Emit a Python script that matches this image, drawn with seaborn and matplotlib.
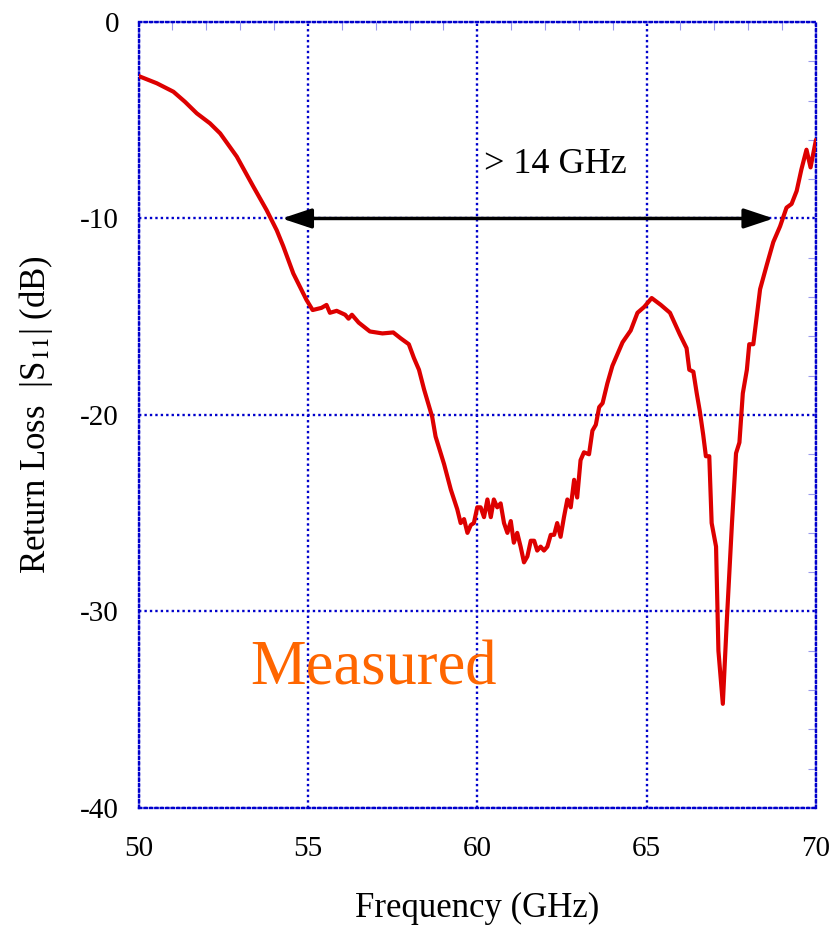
import numpy as np
import pandas as pd
import matplotlib
matplotlib.use("Agg")
import matplotlib.pyplot as plt
import seaborn as sns
from matplotlib.ticker import MultipleLocator

freq = [50.0, 50.54, 51.03, 51.37, 51.72, 52.11, 52.41, 52.9, 53.14, 53.39, 53.78, 54.08,
        54.27, 54.57, 54.96, 55.14, 55.4, 55.55, 55.65, 55.85, 56.1, 56.2, 56.3, 56.5,
        56.83, 57.2, 57.52, 57.74, 57.98, 58.13, 58.28, 58.43, 58.67, 58.77, 59.02, 59.22,
        59.41, 59.51, 59.61, 59.71, 59.81, 59.90, 60.0, 60.10, 60.2, 60.3, 60.4, 60.49,
        60.59, 60.69, 60.79, 60.89, 60.99, 61.08, 61.18, 61.28, 61.38, 61.48, 61.58, 61.68,
        61.77, 61.87, 61.97, 62.07, 62.17, 62.27, 62.36, 62.46, 62.56, 62.66, 62.76, 62.86,
        62.95, 63.05, 63.15, 63.30, 63.40, 63.50, 63.60, 63.70, 63.84, 63.99, 64.14, 64.29,
        64.53, 64.73, 64.93, 65.15, 65.42, 65.69, 65.98, 66.18, 66.26, 66.38, 66.48, 66.57,
        66.67, 66.75, 66.85, 66.92, 67.05, 67.12, 67.25, 67.37, 67.52, 67.64, 67.74, 67.84,
        67.96, 68.03, 68.15, 68.35, 68.55, 68.74, 68.94, 69.13, 69.28, 69.43, 69.57, 69.72,
        69.84, 70.0]
s11 = [-2.75, -3.12, -3.55, -4.06, -4.65, -5.16, -5.67, -6.85, -7.6, -8.38, -9.57, -10.6,
       -11.4, -12.8, -14.15, -14.66, -14.55, -14.4, -14.8, -14.7, -14.9, -15.1, -14.9, -15.3,
       -15.75, -15.85, -15.8, -16.1, -16.4, -17.1, -17.7, -18.7, -20.1, -21.1, -22.5, -23.8,
       -24.8, -25.5, -25.3, -26.0, -25.6, -25.5, -24.7, -24.7, -25.2, -24.3, -25.2, -24.3,
       -24.7, -24.5, -25.5, -26.0, -25.4, -26.5, -26.0, -26.7, -27.5, -27.2, -26.4, -26.4,
       -26.9, -26.7, -26.9, -26.7, -26.1, -26.1, -25.5, -26.2, -25.2, -24.3, -24.7, -23.3,
       -24.2, -22.3, -21.9, -22.0, -20.8, -20.5, -19.6, -19.4, -18.4, -17.5, -16.9, -16.3,
       -15.7, -14.8, -14.5, -14.05, -14.4, -14.8, -15.9, -16.6, -17.7, -17.8, -18.9, -19.8,
       -21.0, -22.1, -22.1, -25.5, -26.7, -32.0, -34.7, -30.4, -25.5, -21.95, -21.4, -18.9,
       -17.7, -16.4, -16.4, -13.6, -12.35, -11.2, -10.4, -9.45, -9.26, -8.6, -7.5, -6.5,
       -7.4, -6.0]

x_ticks = [50, 55, 60, 65, 70]
y_ticks = [0, -10, -20, -30, -40]
bw_start, bw_end, bw_level = 54.23, 68.75, -10
bw_label = "> 14 GHz"
annotation = "Measured"

sns.set_style("white")
plt.rcParams['font.family'] = ['Liberation Serif', 'DejaVu Serif']
plt.rcParams['mathtext.fontset'] = 'stix'
plt.rcParams['text.color'] = 'black'
plt.rcParams['axes.labelcolor'] = 'black'

fig = plt.figure(figsize=(8.3, 9.27), dpi=100)
ax = fig.add_axes([0.1669, 0.1284, 0.8162, 0.8479])

df = pd.DataFrame({"Frequency": freq, "S11": s11})
sns.lineplot(data=df, x="Frequency", y="S11", ax=ax, color="#DD0000", linewidth=3.0,
             zorder=5)

ax.set_xlim(50, 70)
ax.set_ylim(-40, 0)
ax.set_xticks(x_ticks)
ax.set_yticks(y_ticks)
ax.set_xticklabels([str(v) for v in x_ticks])
ax.set_yticklabels([str(v) for v in y_ticks])
ax.xaxis.set_minor_locator(MultipleLocator(1))
ax.yaxis.set_minor_locator(MultipleLocator(2))

blue = "#0000CC"
dot = (0, (1.0, 1.3))
ax.grid(True, which='major', color=blue, linestyle=dot, linewidth=1.7)
for sp in ax.spines.values():
    sp.set_visible(True)
    sp.set_color(blue)
    sp.set_linestyle(dot)
    sp.set_linewidth(1.7)

ax.tick_params(axis='both', which='both', direction='in', top=True, right=True,
               color="#9999EE", labelcolor='black')
ax.tick_params(axis='both', which='major', length=0, labelsize=21)
ax.tick_params(axis='both', which='minor', length=6, width=0.8)
ax.tick_params(axis='y', which='major', pad=14)
ax.tick_params(axis='x', which='major', pad=20)

ax.set_xlabel("Frequency (GHz)", fontsize=25, labelpad=22)
ax.set_ylabel("Return Loss  |S$_{11}$| (dB)", fontsize=25, labelpad=18)

ax.annotate("", xy=(bw_start, bw_level), xytext=(bw_end, bw_level),
            arrowprops=dict(arrowstyle="<|-|>,head_length=1.8,head_width=0.6",
                            color="black", lw=2.5, shrinkA=0, shrinkB=0), zorder=6)
ax.text(62.3, -7.7, bw_label, fontsize=26, ha='center', va='baseline', color='black')
ax.text(53.3, -33.7, annotation, fontsize=45, ha='left', va='baseline', color='#FF6600')

fig.savefig("out.png", dpi=100)
